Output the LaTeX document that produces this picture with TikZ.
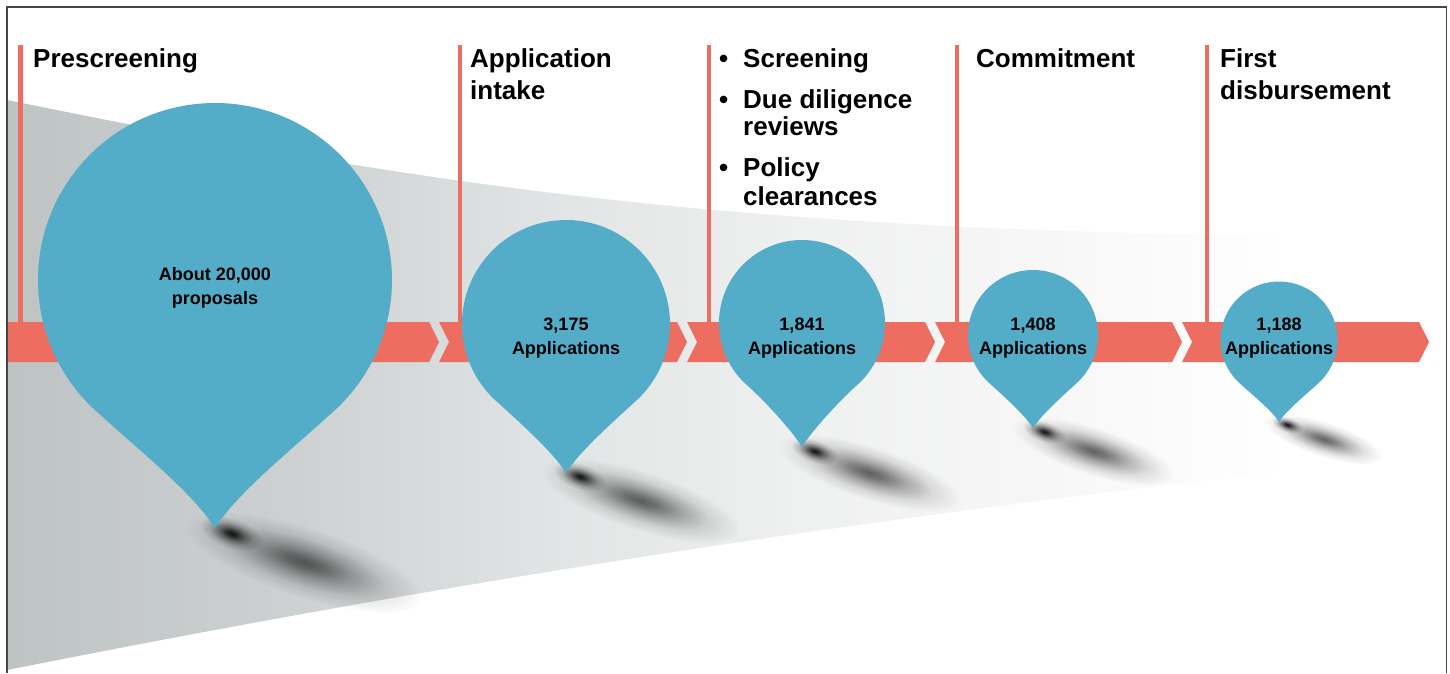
\documentclass[tikz,border=0pt]{standalone}
\usepackage{fontspec}
\setmainfont{Liberation Sans}
\usetikzlibrary{fadings}
\definecolor{arrowred}{RGB}{237,110,96}
\definecolor{balloonblue}{RGB}{83,172,200}
\definecolor{framegray}{RGB}{70,70,70}
\definecolor{fA}{RGB}{190,195,196}
\definecolor{fB}{RGB}{205,209,210}
\definecolor{fC}{RGB}{226,229,229}
\definecolor{fD}{RGB}{239,240,240}
\definecolor{fE}{RGB}{247,247,247}
\pgfdeclarehorizontalshading{funnelshade}{100bp}{color(0bp)=(fA); color(25bp)=(fA); color(35.4bp)=(fB); color(44.6bp)=(fC); color(53.1bp)=(fD); color(61.9bp)=(fE); color(70.5bp)=(white); color(100bp)=(white)}
\pgfdeclareradialshading{softshadowsh}{\pgfpointorigin}{color(0bp)=(white); color(4bp)=(white!85!black); color(10bp)=(white!50!black); color(17bp)=(white!18!black); color(25bp)=(black); color(50bp)=(black)}
\pgfdeclarefading{softshadow}{\pgfuseshading{softshadowsh}}
\tikzset{
  lab/.style={font=\fontsize{26}{30}\selectfont\bfseries, inner sep=0pt, anchor=base west},
  num/.style={font=\fontsize{18}{22}\selectfont\bfseries, inner sep=0pt, anchor=base},
  stageline/.style={draw=arrowred, line width=4.5pt},
  band/.style={fill=arrowred},
  balloon/.style={fill=balloonblue},
}
% tip x, tip y, length
\newcommand\dropshadow[3]{%
  \begin{scope}[transform canvas={shift={(#1,#2)}, rotate=-18}]
    \fill[black, opacity=0.6, path fading=softshadow] ({0.38*#3},{0.02*#3}) ellipse [x radius={0.5*#3}, y radius={0.14*#3}];
    \fill[black, opacity=0.9, path fading=softshadow] ({0.07*#3},0) ellipse [x radius={0.13*#3}, y radius={0.06*#3}];
  \end{scope}}
% name, cx, cy, r, tip factor
\newcommand\balloonshape[5]{%
  \begin{scope}[shift={(#2,#3)}, x=#4pt, y=-#4pt]
    \fill[balloon] (130:1) arc[start angle=130, end angle=410, radius=1]
      .. controls (0.42,0.97) and (0.13,{#5-0.2}) .. (0,#5) coordinate (#1-tip)
      .. controls (-0.13,{#5-0.2}) and (-0.42,0.97) .. (130:1) -- cycle;
    \coordinate (#1) at (0,0);
  \end{scope}}
\begin{document}
\begin{tikzpicture}[x=1pt, y=-1pt]
\useasboundingbox (0,0) rectangle (1450,673);
\fill[white] (0,0) rectangle (1450,673);
% funnel
\shade[shading=funnelshade] (7,100) .. controls (400,180) and (700,230) .. (1300,236) -- (1420,240)
  -- (1420,458) -- (1300,470) .. controls (800,525) and (400,592) .. (7,670) -- cycle;
% stage lines
\foreach \x in {20.5,460,709,957,1207} \draw[stageline] (\x,45) -- (\x,322);
% arrow band
\fill[band] (7,322) -- (429,322) -- (439,342) -- (429,362) -- (7,362) -- cycle;
\foreach \a/\b in {439/687, 687/935, 935/1182, 1182/1429}
  \fill[band] (\a,322) -- ({\b-10},322) -- (\b,342) -- ({\b-10},362) -- (\a,362) -- ({\a+10},342) -- cycle;
% shadows
\dropshadow{215}{528}{250}
\dropshadow{566}{472}{210}
\dropshadow{802}{447}{190}
\dropshadow{1033}{428}{170}
\dropshadow{1279}{422}{125}
% balloons
\balloonshape{b1}{215}{280}{177}{1.40}
\balloonshape{b2}{566}{324}{104}{1.43}
\balloonshape{b3}{802}{323}{83}{1.49}
\balloonshape{b4}{1033}{335}{65}{1.43}
\balloonshape{b5}{1279}{340}{58.5}{1.40}
% balloon texts
\node[num] (n1a) at (215,280) {About 20,000};
\node[num] (n1b) at (215,304) {proposals};
\node[num] (n2a) at (566,330) {3,175};
\node[num] (n2b) at (566,354) {Applications};
\node[num] (n3a) at (802,330) {1,841};
\node[num] (n3b) at (802,354) {Applications};
\node[num] (n4a) at (1033,330) {1,408};
\node[num] (n4b) at (1033,354) {Applications};
\node[num] (n5a) at (1279,330) {1,188};
\node[num] (n5b) at (1279,354) {Applications};
% stage labels
\node[lab] (pre) at (33,67) {Prescreening};
\node[lab] (app1) at (470,67) {Application};
\node[lab] (app2) at (470,99) {intake};
\node[lab] (bul1) at (719,67) {•};
\node[lab] (scr) at (743,67) {Screening};
\node[lab] (bul2) at (719,108) {•};
\node[lab] (due1) at (743,108) {Due diligence};
\node[lab] (due2) at (743,135.5) {reviews};
\node[lab] (bul3) at (719,176.5) {•};
\node[lab] (pol1) at (743,176.5) {Policy};
\node[lab] (pol2) at (743,205) {clearances};
\node[lab] (com) at (976,67) {Commitment};
\node[lab] (fd1) at (1220,67) {First};
\node[lab] (fd2) at (1220,99) {disbursement};
% frame
\draw[framegray, line width=1.5pt] (7,673) -- (7,7) -- (1446.5,7) -- (1446.5,673);
\end{tikzpicture}
\end{document}
